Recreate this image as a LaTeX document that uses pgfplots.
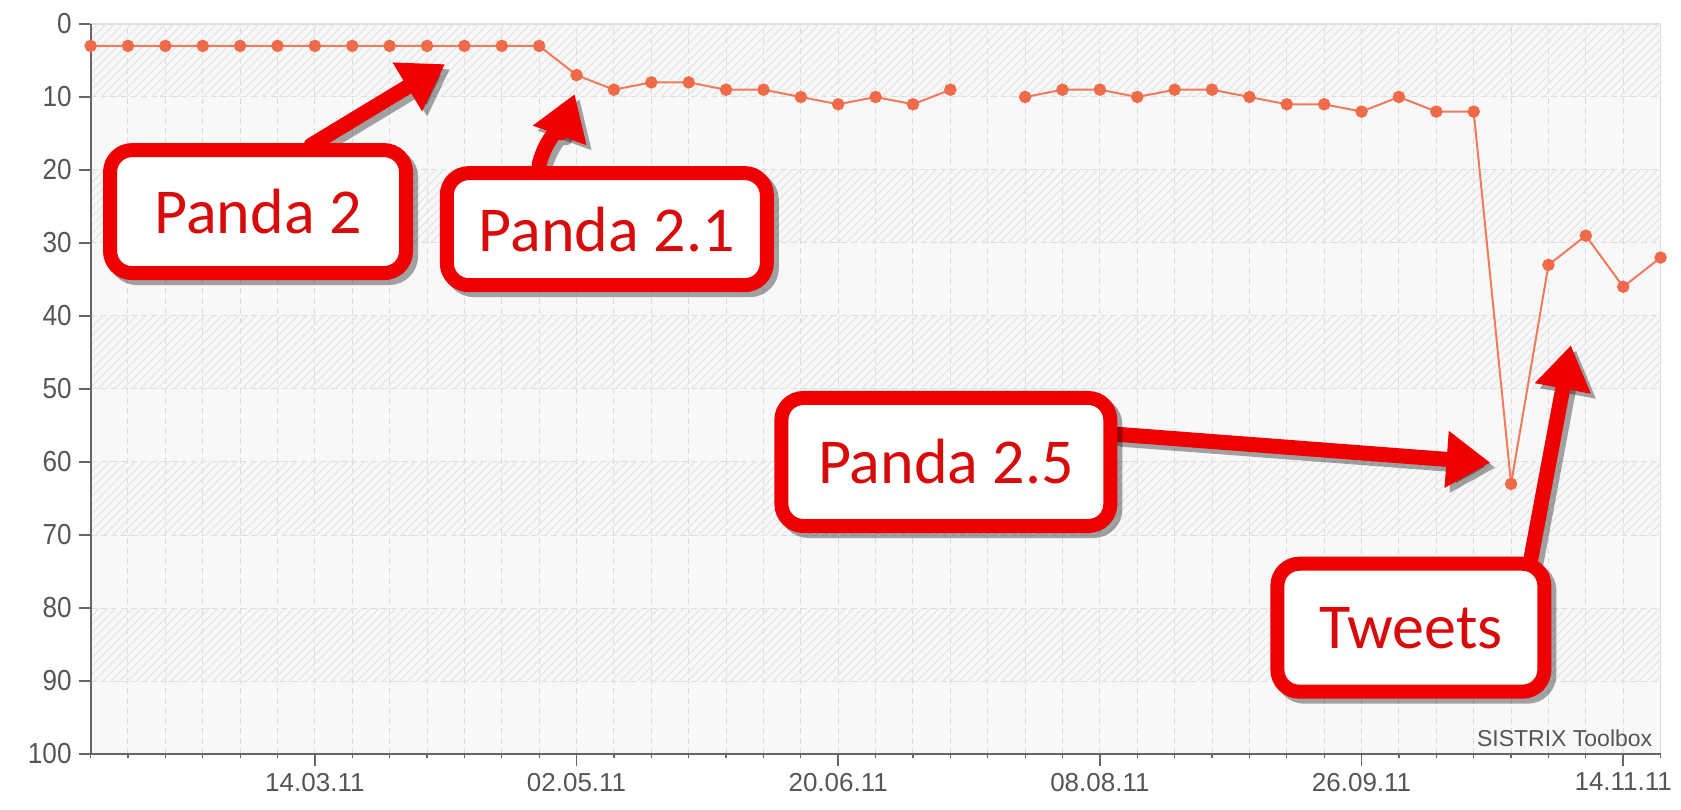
\documentclass[border=0pt]{standalone}
\usepackage{fontspec}
\setmainfont{Liberation Sans}
\newfontfamily\boxfont{Carlito}
\newfontfamily\yfont[FakeStretch=0.9]{Liberation Sans}
\usepackage{pgfplots}
\usepackage{pgfplotstable}
\pgfplotsset{compat=1.18}
\usetikzlibrary{patterns.meta, arrows.meta}
\definecolor{axisgray}{HTML}{666666}
\definecolor{labelgray}{HTML}{555555}
\definecolor{gridgray}{HTML}{DCDCDC}
\definecolor{hatch}{HTML}{E6E6E6}
\definecolor{bg}{HTML}{F8F8F8}
\definecolor{seriesline}{HTML}{F27A5A}
\definecolor{seriesmark}{HTML}{EE6A48}
\definecolor{annred}{HTML}{EE0000}
\definecolor{anntext}{HTML}{D80A0A}

\tikzset{
  pbox/.style={draw=annred, line width=7pt, rounded corners=11pt, fill=white, inner sep=0pt,
    text=anntext, font=\boxfont\fontsize{32}{32}\selectfont},
  pshadow/.style={draw=black, fill=black, line width=7pt, rounded corners=11pt, opacity=0.35,
    xshift=2.5pt, yshift=-2.5pt, inner sep=0pt},
  parr/.style={draw=annred, line width=7.5pt, line cap=round, -{Triangle[length=22pt, width=27pt]}},
  pash/.style={draw=black, opacity=0.35, line width=7.5pt, line cap=round, -{Triangle[length=22pt, width=27pt]},
    xshift=2.5pt, yshift=-2.5pt},
}

% weekly ranking positions, segment before the missing week
\pgfplotstableread{
idx pos
0 3
1 3
2 3
3 3
4 3
5 3
6 3
7 3
8 3
9 3
10 3
11 3
12 3
13 7
14 9
15 8
16 8
17 9
18 9
19 10
20 11
21 10
22 11
23 9
}\rankA
% segment after the missing week
\pgfplotstableread{
idx pos
25 10
26 9
27 9
28 10
29 9
30 9
31 10
32 11
33 11
34 12
35 10
36 12
37 12
38 63
39 33
40 29
41 36
42 32
}\rankB

\begin{document}
\begin{tikzpicture}
\begin{axis}[
  set layers,
  scale only axis, width=785pt, height=365pt,
  xmin=0, xmax=42, ymin=-100, ymax=0,
  axis line style={draw=gridgray, line width=0.6pt},
  axis background/.style={fill=bg},
  xtick={6,13,20,27,34,41},
  xticklabels={14.03.11,02.05.11,20.06.11,08.08.11,26.09.11,14.11.11},
  minor xtick={0,1,...,42},
  ytick={-100,-90,...,0},
  yticklabels={100,90,80,70,60,50,40,30,20,10,0},
  tick pos=left,
  tick align=outside,
  major tick length=6pt, minor tick length=2pt,
  major tick style={draw=axisgray, line width=0.9pt},
  minor tick style={draw=axisgray, line width=0.6pt},
  xmajorgrids, xminorgrids, ymajorgrids,
  major grid style={draw=gridgray, dash pattern=on 3pt off 2pt, line width=0.5pt},
  minor grid style={draw=gridgray, dash pattern=on 3pt off 2pt, line width=0.5pt},
  xticklabel style={font=\fontsize{13}{13}\selectfont, text=labelgray},
  yticklabel style={font=\yfont\fontsize{14.5}{14.5}\selectfont, text=labelgray},
  clip=false,
]
\begin{pgfonlayer}{pre main}
\fill[pattern={Lines[angle=45,distance=3pt,line width=0.6pt]}, pattern color=hatch] (axis cs:0,0) rectangle (axis cs:42,-10);
\fill[pattern={Lines[angle=45,distance=3pt,line width=0.6pt]}, pattern color=hatch] (axis cs:0,-20) rectangle (axis cs:42,-30);
\fill[pattern={Lines[angle=45,distance=3pt,line width=0.6pt]}, pattern color=hatch] (axis cs:0,-40) rectangle (axis cs:42,-50);
\fill[pattern={Lines[angle=45,distance=3pt,line width=0.6pt]}, pattern color=hatch] (axis cs:0,-60) rectangle (axis cs:42,-70);
\fill[pattern={Lines[angle=45,distance=3pt,line width=0.6pt]}, pattern color=hatch] (axis cs:0,-80) rectangle (axis cs:42,-90);
\draw[axisgray, line width=1pt] (axis cs:0,0) -- (axis cs:0,-100) -- (axis cs:42,-100);
\end{pgfonlayer}

\addplot[seriesline, line width=1pt, mark=*, mark size=2.6pt, mark options={fill=seriesmark, draw=seriesmark}]
  table[x=idx, y expr=-\thisrow{pos}] {\rankA};
\addplot[seriesline, line width=1pt, mark=*, mark size=2.6pt, mark options={fill=seriesmark, draw=seriesmark}]
  table[x=idx, y expr=-\thisrow{pos}] {\rankB};

\node[anchor=base east, inner sep=0pt, font=\fontsize{11.5}{11.5}\selectfont, text=labelgray]
  at ([xshift=-4pt, yshift=3.7pt]axis cs:42,-100) {SISTRIX Toolbox};

% arrows
\draw[pash] (axis cs:5.9,-16.6) -- (axis cs:9.48,-5.5);
\draw[parr] (axis cs:5.9,-16.6) -- (axis cs:9.48,-5.5);
\draw[pash] (axis cs:12.0,-19.2) to[out=75,in=250] (axis cs:12.95,-9.6);
\draw[parr] (axis cs:12.0,-19.2) to[out=75,in=250] (axis cs:12.95,-9.6);
\draw[pash] (axis cs:27.46,-56.2) -- (axis cs:37.45,-60.1);
\draw[parr] (axis cs:27.46,-56.2) -- (axis cs:37.45,-60.1);
\draw[pash] (axis cs:38.54,-73.0) -- (axis cs:39.6,-44.0);
\draw[parr] (axis cs:38.54,-73.0) -- (axis cs:39.6,-44.0);

% boxes
\node[pshadow, minimum width=148pt, minimum height=61.5pt] at (axis cs:4.48,-25.7) {};
\node[pbox, minimum width=148pt, minimum height=61.5pt] at (axis cs:4.48,-25.7) {Panda 2};
\node[pshadow, minimum width=160pt, minimum height=56pt] at (axis cs:13.81,-28.1) {};
\node[pbox, minimum width=160pt, minimum height=56pt] at (axis cs:13.81,-28.1) {Panda 2.1};
\node[pshadow, minimum width=164.5pt, minimum height=64pt] at (axis cs:22.88,-60.0) {};
\node[pbox, minimum width=164.5pt, minimum height=64pt] at (axis cs:22.88,-60.0) {Panda 2.5};
\node[pshadow, minimum width=133.5pt, minimum height=64pt] at (axis cs:35.32,-82.7) {};
\node[pbox, minimum width=133.5pt, minimum height=64pt] at (axis cs:35.32,-82.7) {Tweets};
\end{axis}
\pgfresetboundingbox
\path[use as bounding box] (-45.3pt,-27.5pt) rectangle (795.2pt,377pt);
\end{tikzpicture}
\end{document}
